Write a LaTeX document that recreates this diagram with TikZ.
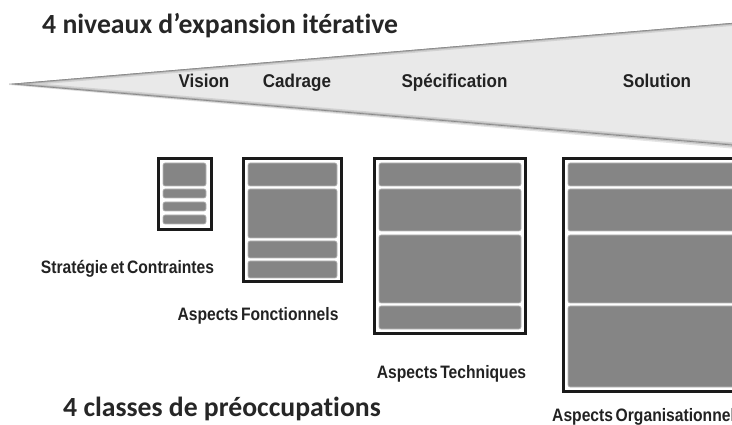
\documentclass[tikz,border=0pt]{standalone}
\usepackage{fontspec}
\setmainfont{Liberation Sans}
\newfontfamily\titlefont[Ligatures=NoCommon]{Carlito}
\newfontfamily\levfont[FakeStretch=0.92]{Liberation Sans}
\newfontfamily\aspfont[FakeStretch=0.87,WordSpace=0.6]{Liberation Sans}
\definecolor{wedgefill}{HTML}{E9E9E9}
\definecolor{bargray}{HTML}{858585}
\definecolor{barline}{HTML}{B8B8B8}
\definecolor{framecol}{HTML}{1A1A1A}
\definecolor{txt}{HTML}{222222}
\tikzset{
  barbox/.style={fill=bargray, draw=barline, line width=0.6pt, rounded corners=2pt},
  framebox/.style={draw=framecol, line width=3pt, fill=white},
  level/.style={inner sep=0pt, anchor=base, text=txt, font=\levfont\bfseries\fontsize{18.5}{22}\selectfont},
  aspect/.style={inner sep=0pt, text=txt, font=\aspfont\bfseries\fontsize{18}{21}\selectfont},
  titletext/.style={inner sep=0pt, anchor=base west, text=black!85, font=\titlefont\bfseries\fontsize{27.7}{32}\selectfont},
}
\def\wedgepath{(9,84) -- (760,20.6) -- (760,147.7) -- cycle}
\begin{document}
\begin{tikzpicture}[x=1pt,y=-1pt]
\useasboundingbox (0,0) rectangle (732,425);
% wedge with soft shadow and bevelled edge
\path[fill=black!10] (9,85) -- (760,23) -- (760,151) -- cycle;
\path[fill=black!22] (9,84.5) -- (760,21.6) -- (760,149.3) -- cycle;
\begin{scope}
  \clip \wedgepath;
  \fill[wedgefill] \wedgepath;
  \draw[black!18, line width=6pt] \wedgepath;
  \draw[black!32, line width=3pt] \wedgepath;
  \draw[black!48, line width=1.2pt] \wedgepath;
\end{scope}
% titles
\node[titletext] (t1) at (42,33.5) {4 niveaux d’expansion itérative};
\node[titletext] (t2) at (63,416) {4 classes de préoccupations};
% level labels
\node[level] (vision) at (204,88) {Vision};
\node[level] (cadrage) at (297,88) {Cadrage};
\node[level] (spec) at (454.5,88) {Spécification};
\node[level] (solution) at (657,88) {Solution};
% box 1
\draw[framebox] (158.5,158.5) rectangle (211.5,229.5);
\foreach \a/\b in {163/186,189/198,202/211,215/224}
  \draw[barbox] (163,\a) rectangle (206,\b);
% box 2
\draw[framebox] (243.5,158.5) rectangle (341.5,281.5);
\foreach \a/\b in {163/186,189/238,241/258,261/278}
  \draw[barbox] (248,\a) rectangle (337,\b);
% box 3
\draw[framebox] (374.5,158.5) rectangle (525.5,333.5);
\foreach \a/\b in {163/186,189/231,235/303,306/329}
  \draw[barbox] (379,\a) rectangle (521,\b);
% box 4
\draw[framebox] (563.5,158.5) rectangle (765,391.5);
\foreach \a/\b in {163/186,189/231,235/303,306/387}
  \draw[barbox] (568,\a) rectangle (760,\b);
% aspect labels
\node[aspect, anchor=base] (strat) at (127.5,274) {Stratégie et Contraintes};
\node[aspect, anchor=base] (fonc) at (258,320) {Aspects Fonctionnels};
\node[aspect, anchor=base] (tech) at (451.5,378) {Aspects Techniques};
\node[aspect, anchor=base west] (orga) at (552,421.5) {Aspects Organisationnels};
\end{tikzpicture}
\end{document}
